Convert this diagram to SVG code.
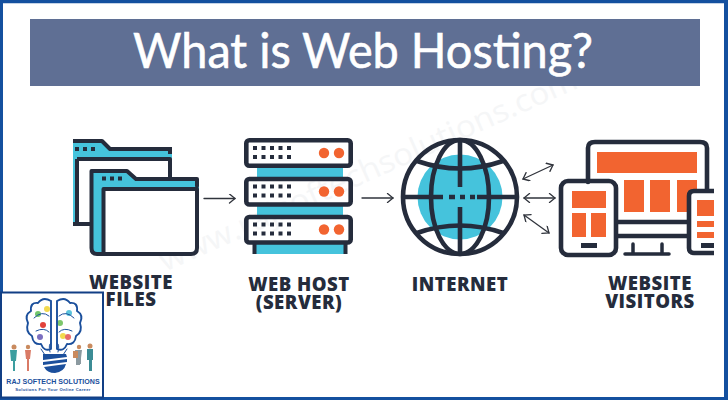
<svg xmlns="http://www.w3.org/2000/svg" width="728" height="400" viewBox="0 0 728 400">
  <style>
    .ink { fill: none; stroke: #252c3c; stroke-width: 4; stroke-linejoin: round; stroke-linecap: round; }
    .bold { stroke-width: 4.6; }
    .slim { stroke-width: 3.5; }
    .flat { stroke-linecap: butt; }
    .thin { fill: none; stroke: #30343c; stroke-width: 1.3; stroke-linecap: round; stroke-linejoin: round; }
    .teal { fill: #45c3dc; }
    .dark { fill: #252c3c; }
    .hot { fill: #f26430; }
    .lab { font-family: "Open Sans", "Noto Sans", sans-serif; font-weight: 800; font-size: 18.6px; fill: #252c3c; text-anchor: middle; letter-spacing: .5px; }
    .wire { fill: none; stroke: #1b4f9c; stroke-width: 1.9; stroke-linecap: round; stroke-linejoin: round; }
    .fine { fill: none; stroke: #1b4f9c; stroke-width: 1; stroke-linecap: round; }
  </style>
  <defs>
    <marker id="tip" viewBox="0 0 10 10" refX="9" refY="5" markerWidth="10" markerHeight="10" markerUnits="userSpaceOnUse" orient="auto-start-reverse">
      <path d="M3.500 .5 L9 5 L3.500 9.500" fill="none" stroke="#30343c" stroke-width="1.300" stroke-linecap="round"/>
    </marker>
    <g id="drive-lights">
      <path class="dark" d="M253 146h4v4h-4zM261.500 146h4v4h-4zM270 146h4v4h-4zM278.500 146h4v4h-4zM287 146h4v4h-4zM253 155h4v4h-4zM261.500 155h4v4h-4zM270 155h4v4h-4zM278.500 155h4v4h-4zM287 155h4v4h-4z"/>
      <circle class="hot" cx="324" cy="153" r="5.200"/>
      <circle class="hot" cx="339" cy="153" r="5.200"/>
    </g>
  </defs>

  <rect width="728" height="400" fill="#fff"/>
  <text transform="translate(165 272) rotate(-24)" font-family="Open Sans, sans-serif" font-size="31" fill="#f5f6f7" textLength="454" lengthAdjust="spacingAndGlyphs">www.rajsoftechsolutions.com</text>

  <g id="title">
    <rect x="30" y="19" width="670" height="67" fill="#5f6f94"/>
    <text x="133" y="68" font-family="Lato, Carlito, sans-serif" font-size="49" fill="#fff" stroke="#fff" stroke-width=".6" textLength="460" lengthAdjust="spacingAndGlyphs">What is Web Hosting?</text>
  </g>

  <g id="website-files">
    <path class="teal" d="M73 140H102L110 149H172V159H79V224H73Z"/>
    <path class="ink flat" d="M73 141H102L110 149H172M170 149V154"/>
    <path class="ink flat" d="M77 159H170V177M77 159V224H90M73 224H90"/>
    <path class="dark" d="M75 147h4v4h-4zM83 147h4v4h-4zM91 147h4v4h-4z"/>
    <path fill="#fff" d="M103 189H197V253H103Z"/>
    <path class="teal" d="M91 171H127L136 179H199V189H104V254H97Q91 254 91 248Z"/>
    <path class="ink" d="M91.500 171H127L136 179H197V186M91.500 171V248Q91.500 254 97 254H191Q197 254 197 248V189H103.500V254"/>
    <path class="dark" d="M102 176.500h4v4h-4zM110 176.500h4v4h-4zM118 176.500h4v4h-4z"/>
    <text class="lab" x="131" y="289">WEBSITE</text>
    <text class="lab" x="131" y="306">FILES</text>
  </g>

  <g id="web-host">
    <path class="teal" d="M257 167H343V178H257ZM257 205H343V216H257ZM255 243H346V254H255Z"/>
    <path class="ink flat" d="M254.500 243V254M345.500 243V254"/>
    <rect class="ink bold" x="246.300" y="140.300" width="104.400" height="25.500" rx="3"/>
    <rect class="ink bold" x="246.300" y="179" width="104.400" height="25.500" rx="3"/>
    <rect class="ink bold" x="246.300" y="217" width="104.400" height="25.500" rx="3"/>
    <use href="#drive-lights"/>
    <use href="#drive-lights" y="38.500"/>
    <use href="#drive-lights" y="76.500"/>
    <text class="lab" x="299" y="291">WEB HOST</text>
    <text class="lab" x="299" y="309">(SERVER)</text>
  </g>

  <g id="internet">
    <circle class="teal" cx="460" cy="197" r="42.500"/>
    <circle class="ink bold" cx="460" cy="197" r="57"/>
    <ellipse class="ink bold" cx="460" cy="197" rx="29" ry="57"/>
    <path class="ink bold" d="M417 161Q460 176 503 161M417 233Q460 218 503 233"/>
    <path class="ink bold flat" d="M460 140V187M460 207V254M403 197H443M477 197H517M449 197h6M460 197h5M470 197h5"/>
    <text class="lab" x="460" y="291">INTERNET</text>
  </g>

  <g id="website-visitors">
    <path class="ink bold" d="M588 182V148Q588 142 595 142H700Q707 142 707 148V190"/>
    <rect class="hot" x="597" y="152" width="100" height="21"/>
    <rect class="hot" x="624" y="180" width="20" height="32"/>
    <rect class="hot" x="650" y="180" width="20" height="32"/>
    <rect class="hot" x="677" y="180" width="20" height="32"/>
    <path class="ink bold" d="M617 222H687M617 236H687"/>
    <path class="ink slim" d="M625 254H669M633 244V254M662 244V254"/>
    <rect class="ink bold" x="561" y="181" width="55" height="74" rx="7"/>
    <rect class="hot" x="572" y="191" width="34" height="17"/>
    <rect class="hot" x="572" y="213" width="14" height="24"/>
    <rect class="hot" x="591" y="213" width="15" height="24"/>
    <rect class="dark" x="581" y="243" width="16" height="5"/>
    <path fill="#fff" d="M689 191H714V254H689Z"/>
    <path class="ink bold flat" d="M714 191H694Q689 191 689 196V248Q689 253 694 253H714"/>
    <rect class="hot" x="697" y="200" width="17" height="16"/>
    <rect class="hot" x="697" y="221" width="17" height="6"/>
    <rect class="hot" x="697" y="232" width="17" height="6"/>
    <rect class="dark" x="701" y="243" width="13" height="5"/>
    <text class="lab" x="650" y="290">WEBSITE</text>
    <text class="lab" x="650" y="308">VISITORS</text>
  </g>

  <g id="connectors">
    <path class="thin" marker-end="url(#tip)" d="M204 198.500H235"/>
    <path class="thin" marker-end="url(#tip)" d="M362 198H393"/>
    <path class="thin" marker-start="url(#tip)" marker-end="url(#tip)" d="M523 179L553 165"/>
    <path class="thin" marker-start="url(#tip)" marker-end="url(#tip)" d="M524 198H555"/>
    <path class="thin" marker-start="url(#tip)" marker-end="url(#tip)" d="M524 215L549 233"/>
  </g>

  <g id="frame" fill="none" stroke="#14509f">
    <path stroke-width="3.500" d="M0 1.500H728"/>
    <path stroke-width="3" d="M1.500 0V400"/>
    <path stroke-width="4" d="M726 0V400"/>
    <path stroke-width="3" d="M0 398.500H728"/>
  </g>

  <g id="logo">
    <rect x="1" y="292.500" width="102" height="105" fill="#fff" stroke="#123f85" stroke-width="2"/>
    <circle cx="47" cy="309" r="3" fill="#f2d94e"/><circle cx="38" cy="314" r="3" fill="#72c66b"/>
    <circle cx="43" cy="325" r="3" fill="#e2423a"/><circle cx="40" cy="337" r="3" fill="#7b6fc0"/>
    <circle cx="69" cy="313" r="3" fill="#5cc4dc"/><circle cx="60" cy="323" r="3" fill="#7cc66b"/>
    <circle cx="63" cy="336" r="3" fill="#f2d94e"/><circle cx="68" cy="337" r="3" fill="#e76a6a"/>
    <g class="wire">
      <path d="M51 301Q43 296 38 303Q30 302 31 311Q24 315 28 323Q25 332 32 336Q33 345 41 344Q44 352 51 349V301"/>
      <path d="M57 301Q65 296 70 303Q78 302 77 311Q84 315 80 323Q83 332 76 336Q75 345 67 344Q64 352 57 349V301"/>
    </g>
    <g class="fine">
      <path d="M34 318Q42 310 49 316M36 331Q44 327 49 332M74 318Q66 310 59 316M72 331Q64 327 59 332"/>
      <path d="M50 352Q48 344 51 343M58 352Q60 344 57 343M41 349L45 355M67 349L63 355"/>
    </g>
    <path d="M43 354H66L67 357L43 360ZM43 362L67 359V362L43 365ZM44 367L66 364Q64 372 55 373Q47 373 44 367Z" fill="#1b4f9c"/>
    <g id="logo-figures">
      <circle cx="14" cy="347" r="2.500" fill="#c98a5e"/><path d="M10 350H17L16 361H15L15 371H13V361H11Z" fill="#3c9d9f"/>
      <circle cx="28" cy="347" r="2.200" fill="#c98a5e"/><path d="M25 350H31L30 359H29L29 371H27V359H26Z" fill="#d97a66"/>
      <circle cx="79" cy="347" r="2.200" fill="#c98a5e"/><path d="M75 350H82L81 358V364H80V365H76V358Z" fill="#8c9aa0"/><path d="M73 351H78V358H73Z" fill="#c98a5e"/>
      <circle cx="90" cy="346" r="2.500" fill="#c98a5e"/><path d="M87 349H93L93 360H92L92 371H89V360H87Z" fill="#3c8c95"/>
    </g>
    <text x="53" y="384" text-anchor="middle" font-family="Liberation Sans, sans-serif" font-weight="700" font-size="7.100" fill="#1b4f9c">RAJ SOFTECH SOLUTIONS</text>
    <text x="53" y="390.500" text-anchor="middle" font-family="Liberation Sans, sans-serif" font-weight="700" font-size="4.200" letter-spacing=".3" fill="#1b4f9c">Solutions For Your Online Career</text>
  </g>
</svg>
